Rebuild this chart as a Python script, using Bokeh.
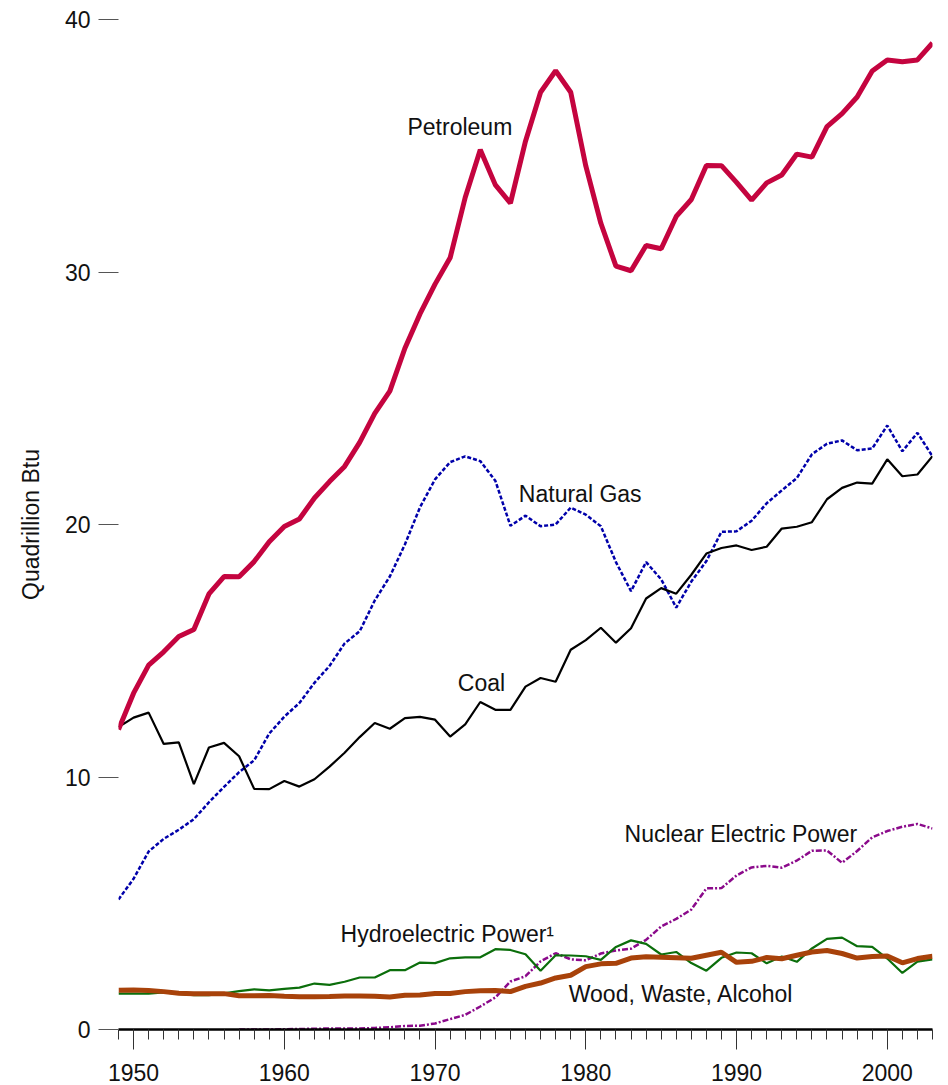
from bokeh.plotting import figure
from bokeh.models import Range1d, FixedTicker, Label
from bokeh.embed import file_html
from bokeh.resources import INLINE

years = list(range(1949, 2004))

petroleum = [11.88, 13.32, 14.43, 14.96, 15.56, 15.84, 17.25, 17.94, 17.93, 18.53,
             19.32, 19.92, 20.22, 21.05, 21.70, 22.30, 23.25, 24.40, 25.28, 26.98,
             28.34, 29.52, 30.56, 32.95, 34.84, 33.45, 32.73, 35.18, 37.12, 37.97,
             37.12, 34.20, 31.93, 30.23, 30.05, 31.05, 30.92, 32.20, 32.87, 34.22,
             34.21, 33.55, 32.85, 33.53, 33.84, 34.67, 34.55, 35.76, 36.27, 36.93,
             37.96, 38.40, 38.33, 38.40, 39.07]

natural_gas = [5.15, 5.97, 7.05, 7.55, 7.91, 8.33, 9.00, 9.61, 10.19, 10.66,
               11.72, 12.39, 12.93, 13.73, 14.40, 15.29, 15.77, 16.99, 17.94, 19.21,
               20.68, 21.79, 22.47, 22.70, 22.51, 21.73, 19.95, 20.35, 19.93, 20.00,
               20.67, 20.39, 19.93, 18.51, 17.36, 18.51, 17.83, 16.71, 17.74, 18.55,
               19.71, 19.73, 20.15, 20.84, 21.35, 21.84, 22.78, 23.20, 23.33, 22.94,
               23.01, 23.92, 22.90, 23.63, 22.70]

coal = [11.98, 12.35, 12.55, 11.31, 11.37, 9.72, 11.17, 11.35, 10.82, 9.53,
        9.52, 9.84, 9.62, 9.91, 10.41, 10.96, 11.58, 12.14, 11.91, 12.33,
        12.38, 12.27, 11.60, 12.08, 12.97, 12.66, 12.66, 13.58, 13.92, 13.77,
        15.04, 15.42, 15.91, 15.32, 15.89, 17.07, 17.48, 17.26, 18.01, 18.85,
        19.07, 19.17, 18.99, 19.12, 19.84, 19.91, 20.09, 21.00, 21.45, 21.66,
        21.62, 22.58, 21.91, 21.98, 22.71]

nuclear_years = list(range(1957, 2004))
nuclear = [0.00, 0.00, 0.00, 0.01, 0.02, 0.03, 0.04, 0.04, 0.04, 0.06,
           0.09, 0.14, 0.15, 0.24, 0.41, 0.58, 0.91, 1.27, 1.90, 2.11,
           2.70, 3.02, 2.78, 2.74, 3.01, 3.13, 3.20, 3.55, 4.08, 4.38,
           4.75, 5.59, 5.60, 6.10, 6.42, 6.48, 6.41, 6.69, 7.08, 7.09,
           6.60, 7.07, 7.61, 7.86, 8.03, 8.14, 7.96]

hydro = [1.42, 1.42, 1.42, 1.47, 1.41, 1.36, 1.36, 1.43, 1.52, 1.59,
         1.55, 1.61, 1.66, 1.82, 1.77, 1.89, 2.06, 2.06, 2.35, 2.35,
         2.65, 2.63, 2.82, 2.86, 2.86, 3.18, 3.15, 2.98, 2.33, 2.94,
         2.93, 2.90, 2.76, 3.27, 3.53, 3.39, 2.97, 3.07, 2.63, 2.33,
         2.84, 3.05, 3.02, 2.62, 2.89, 2.68, 3.21, 3.59, 3.64, 3.30,
         3.27, 2.81, 2.24, 2.69, 2.78]

wood = [1.55, 1.56, 1.54, 1.50, 1.44, 1.42, 1.42, 1.42, 1.34, 1.34,
        1.35, 1.32, 1.30, 1.30, 1.31, 1.33, 1.33, 1.32, 1.29, 1.36,
        1.37, 1.43, 1.43, 1.50, 1.53, 1.54, 1.50, 1.71, 1.84, 2.04,
        2.15, 2.49, 2.60, 2.62, 2.83, 2.88, 2.86, 2.84, 2.82, 2.94,
        3.06, 2.66, 2.70, 2.85, 2.80, 2.94, 3.07, 3.13, 3.01, 2.83,
        2.89, 2.91, 2.64, 2.81, 2.90]

x_major = [1950, 1960, 1970, 1980, 1990, 2000]
y_major = [0, 10, 20, 30, 40]

FONT = "Liberation Sans"
FS = "23px"

p = figure(width=948, height=1085, output_backend="svg", toolbar_location=None,
           x_range=Range1d(1949, 2003), y_range=Range1d(0, 40),
           min_border_left=118, min_border_right=16, min_border_top=19,
           min_border_bottom=56)
p.outline_line_color = None
p.grid.visible = False
p.background_fill_color = "white"

# x axis
xa = p.xaxis[0]
xa.ticker = FixedTicker(ticks=x_major, minor_ticks=years)
xa.axis_line_color = "black"
xa.axis_line_width = 2.5
xa.major_tick_in = 0
xa.major_tick_out = 20
xa.minor_tick_in = 0
xa.minor_tick_out = 10
xa.major_tick_line_color = "#333333"
xa.minor_tick_line_color = "#333333"
xa.major_label_text_font = FONT
xa.major_label_text_font_size = FS
xa.major_label_text_color = "#111111"
xa.major_label_standoff = 14

# y axis
ya = p.yaxis[0]
ya.ticker = FixedTicker(ticks=y_major, minor_ticks=[])
ya.axis_line_color = None
ya.major_tick_in = 0
ya.major_tick_out = 20
ya.minor_tick_line_color = None
ya.major_tick_line_color = "#555555"
ya.major_label_text_font = FONT
ya.major_label_text_font_size = FS
ya.major_label_text_color = "#111111"
ya.major_label_standoff = 8
ya.axis_label = "Quadrillion Btu"
ya.axis_label_text_font = FONT
ya.axis_label_text_font_size = FS
ya.axis_label_text_font_style = "normal"
ya.axis_label_text_color = "#111111"
ya.axis_label_standoff = 18

# lines
p.line(nuclear_years, nuclear, line_color="#8B0A8B", line_width=2.5, line_dash="6 2 2 2")
p.line(years, hydro, line_color="#0B6E0B", line_width=2.2)
p.line(years, wood, line_color="#A8420A", line_width=5)
p.line(years, natural_gas, line_color="#0000AA", line_width=2.5, line_dash="4 2")
p.line(years, coal, line_color="black", line_width=2.2)
p.line(years, petroleum, line_color="#C4043F", line_width=5)

labels = [
    ("Petroleum", 1968.17, 35.73),
    ("Natural Gas", 1975.56, 21.19),
    ("Coal", 1971.51, 13.71),
    ("Nuclear Electric Power", 1982.57, 7.73),
    ("Hydroelectric Power\u00b9", 1963.73, 3.78),
    ("Wood, Waste, Alcohol", 1978.87, 1.39),
]
for txt, lx, ly in labels:
    p.add_layout(Label(x=lx, y=ly, text=txt, text_font=FONT, text_font_size=FS,
                       text_color="#111111", text_align="left",
                       text_baseline="alphabetic"))

open("out.html", "w").write(file_html(p, INLINE))
